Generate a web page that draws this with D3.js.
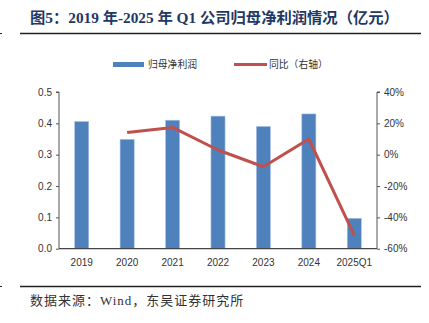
<!DOCTYPE html>
<html><head><meta charset="utf-8">
<script src="https://cdn.jsdelivr.net/npm/d3@7"></script>
<style>body{margin:0;background:#fff}svg{display:block}</style>
</head><body>
<script>
const categories = ["2019","2020","2021","2022","2023","2024","2025Q1"];
const profit = [0.406, 0.349, 0.410, 0.423, 0.390, 0.430, 0.097];
const yoy = [null, 14.2, 17.4, 3.0, -7.7, 10.0, -51.5];
const leftTicks = [0, 0.1, 0.2, 0.3, 0.4, 0.5];
const rightTicks = [-60, -40, -20, 0, 20, 40];

const W = 429, H = 323;
const svg = d3.select("body").append("svg").attr("width", W).attr("height", H);
const m = {l: 59, r: 377, t: 92, b: 248.7};

const x = d3.scaleBand().domain(categories).range([m.l, m.r]).paddingInner(0.69).paddingOuter(0.345);
const yL = d3.scaleLinear().domain([0, 0.5]).range([m.b, m.t]);
const yR = d3.scaleLinear().domain([-60, 40]).range([m.b, m.t]);

// title
svg.append("text").attr("x", 30).attr("y", 23)
  .attr("font-family", "'Liberation Serif','Noto Sans CJK SC',serif")
  .attr("font-weight", "bold").attr("font-size", 15.3).attr("fill", "#1F3864")
  .text("图5：2019 年-2025 年 Q1 公司归母净利润情况（亿元）");
svg.append("line").attr("x1", 20).attr("x2", 421).attr("y1", 33.5).attr("y2", 33.5)
  .attr("stroke", "#222").attr("stroke-width", 1.5);
svg.append("line").attr("x1", 0).attr("x2", 2).attr("y1", 33.5).attr("y2", 33.5)
  .attr("stroke", "#222").attr("stroke-width", 1);

// bars
svg.selectAll("rect.bar").data(profit).enter().append("rect")
  .attr("x", (d, i) => x(categories[i])).attr("width", x.bandwidth())
  .attr("y", d => yL(d)).attr("height", d => yL(0) - yL(d))
  .attr("fill", "#4F81BD").attr("stroke", "#A9C4E6").attr("stroke-width", 0.6);

// line
const line = d3.line().defined(d => d !== null)
  .x((d, i) => x(categories[i]) + x.bandwidth() / 2).y(d => yR(d));
svg.append("path").datum(yoy).attr("d", line)
  .attr("fill", "none").attr("stroke", "#C0504D").attr("stroke-width", 3).attr("stroke-linejoin", "round");

// axes
const fnt = "'Liberation Sans','Noto Sans CJK SC',sans-serif";
const gL = svg.append("g").attr("transform", `translate(${m.l},0)`)
  .call(d3.axisLeft(yL).tickValues(leftTicks).tickFormat(d3.format(".1f")).tickSize(3).tickPadding(4));
const gR = svg.append("g").attr("transform", `translate(${m.r},0)`)
  .call(d3.axisRight(yR).tickValues(rightTicks).tickFormat(d => d + "%").tickSize(3).tickPadding(4));
const gX = svg.append("g").attr("transform", `translate(0,${m.b})`)
  .call(d3.axisBottom(x).tickSize(0).tickPadding(10));
[gL, gR, gX].forEach(g => {
  g.selectAll("text").attr("font-family", fnt).attr("font-size", 10).attr("fill", "#333");
  g.selectAll("path,line").attr("stroke", "#555");
});
gX.select("path").attr("d", `M${m.l},0H${m.r}`).attr("stroke", "#444").attr("stroke-width", 1.2);
gL.select("path").attr("d", `M-3,${m.t}H0V${m.b}`);
gR.select("path").attr("d", `M3,${m.t}H0V${m.b}`);

// legend
svg.append("rect").attr("x", 113).attr("y", 62).attr("width", 31).attr("height", 5).attr("fill", "#4F81BD");
svg.append("text").attr("x", 148).attr("y", 68).attr("font-family", fnt).attr("font-size", 9.8).attr("fill", "#333").text("归母净利润");
svg.append("line").attr("x1", 234).attr("x2", 267).attr("y1", 64.5).attr("y2", 64.5).attr("stroke", "#C0504D").attr("stroke-width", 3);
svg.append("text").attr("x", 269).attr("y", 68).attr("font-family", fnt).attr("font-size", 9.8).attr("fill", "#333").text("同比（右轴）");

// footer
svg.append("line").attr("x1", 20).attr("x2", 421).attr("y1", 286.5).attr("y2", 286.5)
  .attr("stroke", "#222").attr("stroke-width", 1.5);
svg.append("line").attr("x1", 0).attr("x2", 2).attr("y1", 286.5).attr("y2", 286.5)
  .attr("stroke", "#222").attr("stroke-width", 1);
svg.append("text").attr("x", 30).attr("y", 305)
  .attr("font-family", "'Liberation Serif','Noto Sans CJK SC',serif").attr("font-size", 13).attr("letter-spacing", 1).attr("fill", "#333")
  .text("数据来源：Wind，东吴证券研究所");
</script>
</body></html>
